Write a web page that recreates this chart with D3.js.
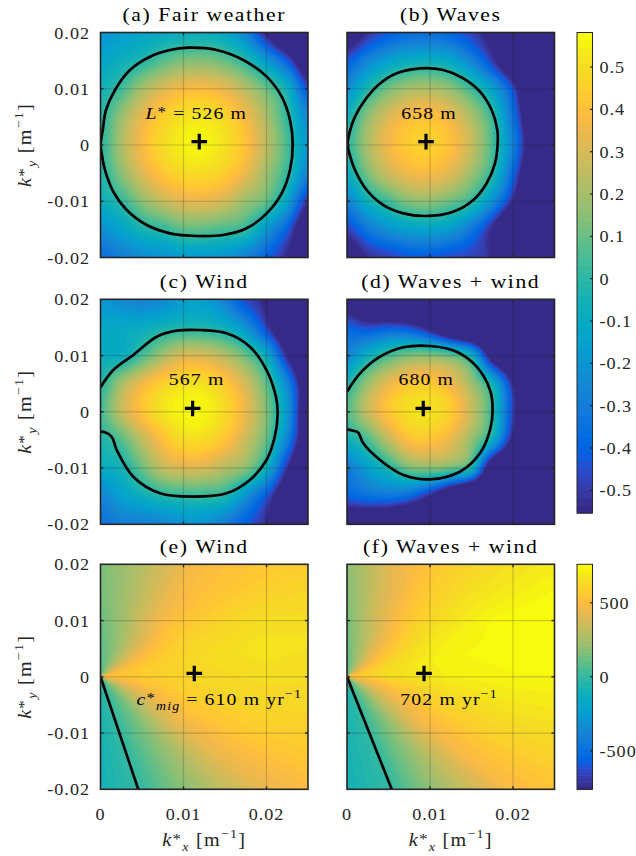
<!DOCTYPE html>
<html><head><meta charset="utf-8">
<script src="https://cdn.jsdelivr.net/npm/d3@7/dist/d3.min.js"></script>
<style>
body{margin:0;background:#fff;}
svg text{font-family:"Liberation Serif","Times New Roman",serif;}
</style>
</head><body>
<svg id="fig" width="636" height="856" xmlns="http://www.w3.org/2000/svg"></svg>
<script>
// ---------------- DATA ----------------
const axisTicksX = [0, 0.01, 0.02];
const axisTicksY = [0.02, 0.01, 0, -0.01, -0.02];
const axisTickLabelsX = ["0", "0.01", "0.02"];
const axisTickLabelsY = ["0.02", "0.01", "0", "-0.01", "-0.02"];
const growthTicks = [0.5, 0.4, 0.3, 0.2, 0.1, 0, -0.1, -0.2, -0.3, -0.4, -0.5];
const growthTickLabels = ["0.5","0.4","0.3","0.2","0.1","0","-0.1","-0.2","-0.3","-0.4","-0.5"];
const migTicks = [500, 0, -500];
const migTickLabels = ["500", "0", "-500"];
const growthLimits = [-0.5537, 0.5816];
const migLimits = [-760, 760];
const titles = ["(a) Fair weather", "(b) Waves", "(c) Wind", "(d) Waves + wind", "(e) Wind", "(f) Waves + wind"];

// growth-rate grids (rows: ky from 0.02 down to -0.02, cols: kx from 0 to 0.025)
const gridKx = [0, 0.0025, 0.005, 0.0075, 0.01, 0.0125, 0.015, 0.0175, 0.02, 0.0225, 0.025];
const gridKy = [0.02, 0.015, 0.01, 0.005, 0, -0.005, -0.01, -0.015, -0.02];
const growthFair = [
 [-0.20,-0.16,-0.125,-0.10,-0.083,-0.08,-0.12,-0.26,-0.56,-0.85,-1.0],
 [-0.125,-0.07,-0.016,0.072,0.132,0.141,0.095,-0.007,-0.186,-0.42,-0.75],
 [-0.053,0.036,0.199,0.310,0.371,0.380,0.333,0.230,0.10,-0.07,-0.45],
 [-0.012,0.175,0.338,0.449,0.510,0.519,0.472,0.368,0.208,0.005,-0.25],
 [0,0.213,0.376,0.487,0.548,0.557,0.510,0.407,0.246,0.05,-0.2],
 [-0.022,0.151,0.314,0.425,0.486,0.494,0.448,0.344,0.184,0.01,-0.27],
 [-0.079,0.01,0.151,0.262,0.323,0.332,0.285,0.181,0.09,-0.14,-0.52],
 [-0.22,-0.137,-0.04,0.01,0.08,0.08,0.05,0.01,-0.19,-0.41,-0.73],
 [-0.35,-0.287,-0.238,-0.2,-0.176,-0.171,-0.205,-0.276,-0.393,-0.55,-0.77]];
const growthWaves = [
 [-0.68,-0.52,-0.42,-0.367,-0.357,-0.393,-0.478,-0.61,-0.8,-1.0,-1.0],
 [-0.423,-0.264,-0.154,-0.092,-0.08,-0.123,-0.27,-0.49,-0.8,-1.0,-1.0],
 [-0.217,-0.026,0.119,0.2,0.217,0.16,0.03,-0.15,-0.45,-0.93,-1.0],
 [-0.053,0.159,0.306,0.388,0.405,0.347,0.212,0.02,-0.345,-0.78,-1.0],
 [0,0.211,0.358,0.44,0.457,0.4,0.264,0.051,-0.283,-0.72,-1.0],
 [-0.083,0.129,0.276,0.358,0.375,0.317,0.182,0.0,-0.38,-0.81,-1.0],
 [-0.267,-0.07,0.04,0.144,0.161,0.104,0.01,-0.22,-0.55,-1.0,-1.0],
 [-0.48,-0.32,-0.21,-0.15,-0.139,-0.18,-0.32,-0.55,-0.9,-1.0,-1.0],
 [-0.68,-0.53,-0.48,-0.428,-0.418,-0.454,-0.48,-0.56,-1.0,-1.0,-1.0]];
const growthWind = [
 [-0.20,-0.24,-0.27,-0.24,-0.165,-0.165,-0.28,-0.46,-0.585,-1.0,-1.0],
 [-0.11,-0.107,-0.09,-0.048,-0.023,-0.026,-0.075,-0.21,-0.476,-0.8,-1.0],
 [-0.085,-0.08,0.05,0.2,0.304,0.299,0.226,0.1,-0.1,-0.55,-0.9],
 [-0.012,0.2,0.355,0.458,0.508,0.502,0.43,0.289,0.079,-0.26,-0.71],
 [0.047,0.257,0.412,0.515,0.564,0.559,0.486,0.345,0.135,-0.186,-0.74],
 [-0.025,0.07,0.25,0.4,0.492,0.487,0.414,0.274,0.09,-0.28,-0.73],
 [-0.095,-0.05,0.1,0.255,0.305,0.299,0.227,0.15,-0.08,-0.52,-0.9],
 [-0.26,-0.153,-0.075,-0.02,0.01,0.01,-0.02,-0.217,-0.43,-0.75,-1.0],
 [-0.345,-0.29,-0.285,-0.256,-0.208,-0.21,-0.3,-0.41,-0.55,-0.8,-1.0]];
const growthWavesWind = [
 [-0.65,-0.85,-1,-1,-1,-1,-1,-1,-1,-1,-1],
 [-0.4,-0.45,-0.42,-0.45,-0.6,-0.85,-1,-1,-1,-1,-1],
 [-0.25,-0.08,0.047,0.131,0.142,0.09,-0.08,-0.65,-0.9,-1,-1],
 [-0.02,0.184,0.339,0.422,0.434,0.358,0.191,-0.069,-0.55,-1,-1],
 [0.07,0.265,0.419,0.503,0.514,0.439,0.271,0.011,-0.48,-0.9,-1],
 [-0.06,0.05,0.25,0.401,0.412,0.337,0.17,-0.09,-0.6,-1,-1],
 [-0.3,-0.15,-0.03,0.12,0.147,0.1,-0.05,-0.75,-1,-1,-1],
 [-0.4,-0.35,-0.33,-0.38,-0.55,-0.8,-1,-1,-1,-1,-1],
 [-0.75,-0.75,-0.8,-0.9,-1,-1,-1,-1,-1,-1,-1]];

// migration-speed grids in polar form (rows: |k|, cols: direction angle in degrees)
const polarAngles = [-90,-75,-60,-45,-30,-15,0,15,30,45,60,75,90];
const polarRadii = [0, 0.005, 0.012, 0.02, 0.032];
const migWind = [
 [-40,12,80,180,300,420,500,500,430,320,200,100,50],
 [-60,15,120,280,420,520,570,570,520,420,290,170,90],
 [-80,18,180,400,530,600,630,640,610,540,420,260,130],
 [-90,20,222,440,560,620,650,680,640,550,480,300,150],
 [-95,20,235,440,560,610,640,660,620,560,500,320,170]];
const migWavesWind = [
 [-40,0,90,200,320,430,520,520,470,360,240,130,60],
 [-60,0,140,320,450,540,640,650,590,500,380,240,110],
 [-80,0,200,440,560,640,715,730,700,620,500,350,160],
 [-95,0,240,480,600,680,735,750,740,660,560,420,190],
 [-100,0,260,500,600,680,735,755,745,670,590,450,200]];

// zero contours [kx, ky]
const contourFair = [[0.01058,0.0173],[0.014,0.01689],[0.0172,0.01511],[0.02002,0.01215],[0.02183,0.00859],[0.02283,0.00444],[0.02316,0.00012],[0.02283,-0.00444],[0.02183,-0.00859],[0.02002,-0.01215],[0.01761,-0.01481],[0.0148,-0.016],[0.01159,-0.01618],[0.00837,-0.0157],[0.00557,-0.01422],[0.00316,-0.01156],[0.00154,-0.0083],[0.00054,-0.00444],[0.00014,-0.00148],[0.00002,0.00012],[0.00027,0.00267],[0.00066,0.00622],[0.00175,0.00978],[0.00355,0.01333],[0.00596,0.0157],[0.00837,0.01689]];
const contourWaves = [[0.0088,0.01363],[0.0116,0.01333],[0.01402,0.01185],[0.01602,0.00948],[0.01743,0.00622],[0.01811,0.00267],[0.01815,0.00012],[0.01783,-0.00326],[0.01683,-0.00681],[0.01522,-0.00978],[0.01281,-0.01185],[0.00952,-0.01262],[0.00679,-0.01215],[0.00438,-0.01067],[0.00237,-0.008],[0.00096,-0.00444],[0.00028,-0.00148],[0.00008,0.00012],[0.00028,0.00207],[0.00096,0.00504],[0.00217,0.008],[0.00377,0.01067],[0.00599,0.01274]];
const contourWind = [[0,0.00436],[0.00154,0.00743],[0.00395,0.0101],[0.00677,0.01335],[0.00918,0.01442],[0.012,0.01454],[0.0152,0.01396],[0.018,0.01157],[0.02,0.00743],[0.02114,0.00268],[0.02135,-0.00027],[0.021,-0.00443],[0.02,-0.00857],[0.018,-0.01212],[0.0152,-0.01449],[0.01118,-0.01509],[0.00717,-0.01449],[0.00395,-0.01154],[0.00195,-0.00679],[0.00135,-0.00443],[0.00054,-0.00364],[0,-0.00354]];
const contourWavesWind = [[0,0.00357],[0.00157,0.00684],[0.00398,0.0098],[0.00679,0.01147],[0.01,0.0117],[0.01321,0.01068],[0.01562,0.00802],[0.01723,0.00388],[0.01755,0.00032],[0.01723,-0.00324],[0.01602,-0.00738],[0.01361,-0.01065],[0.01,-0.012],[0.00679,-0.01124],[0.00398,-0.00857],[0.00196,-0.0056],[0.00136,-0.00372],[0.00076,-0.00336],[0,-0.00311]];
const zeroLineWind = [[0,0],[0.00455,-0.02]];
const zeroLineWavesWind = [[0,0],[0.00539,-0.02]];

// most unstable modes [kx, ky]
const peakModes = [[0.0119,0.0006],[0.00952,0.0006],[0.0111,0.0006],[0.00919,0.0006],[0.0113,0.0006],[0.00928,0.0006]];
// annotation texts (parts)
const annotations = [
 [{t:"L",i:1},{t:"*",ast:1},{t:" = 526 m"}],
 [{t:"658 m"}],
 [{t:"567 m"}],
 [{t:"680 m"}],
 [{t:"c",i:1},{t:"*",ast:1},{t:"mig",sub:1,i:1},{t:" = 610 m yr"},{t:"\u22121",sup:1}],
 [{t:"702 m yr"},{t:"\u22121",sup:1}]
];

// parula colormap (64)
const parula = [
[0.2081,0.1663,0.5292],[0.2116,0.1898,0.5777],[0.2123,0.2138,0.6270],[0.2081,0.2386,0.6771],
[0.1959,0.2645,0.7279],[0.1707,0.2919,0.7792],[0.1253,0.3242,0.8303],[0.0591,0.3598,0.8683],
[0.0117,0.3875,0.8820],[0.0060,0.4086,0.8828],[0.0165,0.4266,0.8786],[0.0329,0.4430,0.8720],
[0.0498,0.4586,0.8641],[0.0629,0.4737,0.8554],[0.0723,0.4887,0.8467],[0.0779,0.5040,0.8384],
[0.0793,0.5200,0.8312],[0.0749,0.5375,0.8263],[0.0641,0.5570,0.8240],[0.0488,0.5772,0.8228],
[0.0343,0.5966,0.8199],[0.0265,0.6137,0.8135],[0.0239,0.6287,0.8038],[0.0231,0.6418,0.7913],
[0.0228,0.6535,0.7768],[0.0267,0.6642,0.7607],[0.0384,0.6743,0.7436],[0.0590,0.6838,0.7254],
[0.0843,0.6928,0.7062],[0.1133,0.7015,0.6859],[0.1453,0.7098,0.6646],[0.1801,0.7177,0.6424],
[0.2178,0.7250,0.6193],[0.2586,0.7317,0.5954],[0.3022,0.7376,0.5712],[0.3482,0.7424,0.5473],
[0.3953,0.7459,0.5244],[0.4420,0.7481,0.5033],[0.4871,0.7491,0.4840],[0.5300,0.7491,0.4661],
[0.5709,0.7485,0.4494],[0.6099,0.7473,0.4337],[0.6473,0.7456,0.4188],[0.6834,0.7435,0.4044],
[0.7184,0.7411,0.3905],[0.7525,0.7384,0.3768],[0.7858,0.7356,0.3633],[0.8185,0.7327,0.3498],
[0.8507,0.7299,0.3360],[0.8824,0.7274,0.3217],[0.9139,0.7258,0.3063],[0.9450,0.7261,0.2886],
[0.9739,0.7314,0.2666],[0.9938,0.7455,0.2403],[0.9990,0.7653,0.2164],[0.9955,0.7861,0.1967],
[0.9880,0.8066,0.1794],[0.9789,0.8271,0.1633],[0.9697,0.8481,0.1475],[0.9626,0.8705,0.1309],
[0.9589,0.8949,0.1132],[0.9598,0.9218,0.0948],[0.9661,0.9514,0.0755],[0.9763,0.9831,0.0538]];

// ---------------- LAYOUT ----------------
const svg = d3.select("#fig");
const colX = [100.5, 347], rowY = [32.5, 299.3, 564.3];
const PW = 207.5, PH = 225;
const xDomain = [0, 0.025], yDomain = [-0.02, 0.02];
const cbX = 577, cbW = 15.5;
const frameColor = "#262626";
// font size, horizontal stretch, letter spacing
const TXT_TICK = {fs:16.5, str:1.1, ls:0.9};
const TXT_TITLE = {fs:18.5, str:1.17, ls:1.35};
const TXT_ANN = {fs:17.5, str:1.13, ls:1.0};
const TXT_LAB = {fs:18, str:1.12, ls:1.1};

const rgb = parula.map(c => c.map(v => Math.round(v * 255)));
function colorIndex(limits) {
  return d3.scaleQuantize().domain(limits).range(d3.range(parula.length));
}

function catmull(p0, p1, p2, p3, t) {
  return p1 + 0.5 * t * (p2 - p0 + t * (2 * p0 - 5 * p1 + 4 * p2 - p3 + t * (3 * (p1 - p2) + p3 - p0)));
}
function cartesianField(grid) {
  const nx = gridKx.length, ny = gridKy.length;
  const gx = d3.scaleLinear().domain([gridKx[0], gridKx[nx - 1]]).range([0, nx - 1]).clamp(true);
  const gy = d3.scaleLinear().domain([gridKy[0], gridKy[ny - 1]]).range([0, ny - 1]).clamp(true);
  const at = (r, c) => grid[Math.max(0, Math.min(ny - 1, r))][Math.max(0, Math.min(nx - 1, c))];
  return (kx, ky) => {
    const fx = gx(kx), fy = gy(ky);
    const ix = Math.min(nx - 2, Math.floor(fx)), iy = Math.min(ny - 2, Math.floor(fy));
    const tx = fx - ix, ty = fy - iy;
    const rows = [];
    for (let r = -1; r <= 2; r++) {
      rows.push(catmull(at(iy + r, ix - 1), at(iy + r, ix), at(iy + r, ix + 1), at(iy + r, ix + 2), tx));
    }
    return catmull(rows[0], rows[1], rows[2], rows[3], ty);
  };
}
function polarField(grid) {
  const na = polarAngles.length, nr = polarRadii.length;
  const ga = d3.scaleLinear().domain(polarAngles).range(d3.range(na)).clamp(true);
  const gr = d3.scaleLinear().domain(polarRadii).range(d3.range(nr)).clamp(true);
  return (kx, ky) => {
    const ang = Math.atan2(ky, kx) * 180 / Math.PI;
    const rad = Math.hypot(kx, ky);
    const fa = ga(ang), fr = gr(rad);
    const ia = Math.min(na - 2, Math.floor(fa)), ir = Math.min(nr - 2, Math.floor(fr));
    const ta = fa - ia, tr = fr - ir;
    const v0 = grid[ir][ia] * (1 - ta) + grid[ir][ia + 1] * ta;
    const v1 = grid[ir + 1][ia] * (1 - ta) + grid[ir + 1][ia + 1] * ta;
    return v0 * (1 - tr) + v1 * tr;
  };
}

function richText(parent, parts, st) {
  const fontSize = st.fs;
  const t = parent.append("text").attr("font-size", fontSize).attr("letter-spacing", st.ls);
  let shift = 0;
  parts.forEach(p => {
    let target = 0, fs = fontSize;
    if (p.sup) { target = -0.42 * fontSize; fs = 0.7 * fontSize; }
    if (p.sub) { target = 0.28 * fontSize; fs = 0.7 * fontSize; }
    if (p.ast) { target = -0.12 * fontSize; fs = 0.85 * fontSize; }
    const s = t.append("tspan").text(p.t).attr("font-size", fs).attr("dy", target - shift);
    if (p.i) s.attr("font-style", "italic");
    shift = target;
  });
  return t;
}
function plainText(parent, str, st) {
  return parent.append("text").attr("font-size", st.fs).attr("letter-spacing", st.ls).text(str);
}
function place(sel, x, y, st, rot) {
  sel.attr("x", 0).attr("y", 0)
     .attr("transform", `translate(${x},${y})${rot ? ` rotate(${rot})` : ""} scale(${st.str},1)`);
  return sel;
}

const panels = [
  {col:0,row:0,kind:"g",data:growthFair,contour:contourFair,closed:true},
  {col:1,row:0,kind:"g",data:growthWaves,contour:contourWaves,closed:true},
  {col:0,row:1,kind:"g",data:growthWind,contour:contourWind,closed:false},
  {col:1,row:1,kind:"g",data:growthWavesWind,contour:contourWavesWind,closed:false},
  {col:0,row:2,kind:"m",data:migWind,contour:zeroLineWind,closed:false,straight:true},
  {col:1,row:2,kind:"m",data:migWavesWind,contour:zeroLineWavesWind,closed:false,straight:true}
];
const annOffset = [[-3,-23],[3,-23],[4,-23],[3,-23],[25,32],[25,32]];

const defs = svg.append("defs");

panels.forEach((p, idx) => {
  const x0 = colX[p.col], y0 = rowY[p.row];
  const x = d3.scaleLinear().domain(xDomain).range([x0, x0 + PW]);
  const y = d3.scaleLinear().domain(yDomain).range([y0 + PH, y0]);
  const field = p.kind === "g" ? cartesianField(p.data) : polarField(p.data);
  const cidx = colorIndex(p.kind === "g" ? growthLimits : migLimits);
  const W = Math.round(PW), H = Math.round(PH);
  const cv = document.createElement("canvas");
  cv.width = W; cv.height = H;
  const ctx = cv.getContext("2d");
  const img = ctx.createImageData(W, H);
  const px = d3.scaleLinear().domain([0, W]).range([x0, x0 + PW]);
  const py = d3.scaleLinear().domain([0, H]).range([y0, y0 + PH]);
  for (let j = 0; j < H; j++) {
    const ky = y.invert(py(j + 0.5));
    for (let i = 0; i < W; i++) {
      const kx = x.invert(px(i + 0.5));
      const c = rgb[cidx(field(kx, ky))];
      const o = 4 * (j * W + i);
      img.data[o] = c[0]; img.data[o + 1] = c[1]; img.data[o + 2] = c[2]; img.data[o + 3] = 255;
    }
  }
  ctx.putImageData(img, 0, 0);
  const g = svg.append("g");
  g.append("image").attr("href", cv.toDataURL()).attr("x", x0).attr("y", y0)
    .attr("width", PW).attr("height", PH).attr("preserveAspectRatio", "none");

  // grid lines
  g.selectAll(".gx").data(axisTicksX.filter(v => v > 0)).enter().append("line")
    .attr("x1", d => x(d)).attr("x2", d => x(d)).attr("y1", y0).attr("y2", y0 + PH)
    .attr("stroke", frameColor).attr("stroke-opacity", 0.22).attr("stroke-width", 1.2);
  g.selectAll(".gy").data(axisTicksY.filter(v => v > -0.02 && v < 0.02)).enter().append("line")
    .attr("y1", d => y(d)).attr("y2", d => y(d)).attr("x1", x0).attr("x2", x0 + PW)
    .attr("stroke", frameColor).attr("stroke-opacity", 0.22).attr("stroke-width", 1.2);

  // contour
  const clipId = "clip" + idx;
  defs.append("clipPath").attr("id", clipId).append("rect")
    .attr("x", x0).attr("y", y0).attr("width", PW).attr("height", PH);
  const line = d3.line().x(d => x(d[0])).y(d => y(d[1]))
    .curve(p.straight ? d3.curveLinear : (p.closed ? d3.curveCatmullRomClosed : d3.curveCatmullRom));
  g.append("path").attr("d", line(p.contour)).attr("clip-path", `url(#${clipId})`)
    .attr("fill", "none").attr("stroke", "#000").attr("stroke-width", 2.7).attr("stroke-linejoin", "round");

  // most unstable mode marker
  const pk = peakModes[idx];
  const cx = x(pk[0]), cy = y(pk[1]);
  g.append("path").attr("d", `M${cx - 7.8},${cy}H${cx + 7.8}M${cx},${cy - 7.8}V${cy + 7.8}`)
    .attr("stroke", "#000").attr("stroke-width", 3.2);

  // annotation
  const at = richText(g, annotations[idx], TXT_ANN).attr("text-anchor", "middle").attr("fill", "#000");
  place(at, cx + annOffset[idx][0], cy + annOffset[idx][1], TXT_ANN);

  // frame and ticks
  g.append("rect").attr("x", x0).attr("y", y0).attr("width", PW).attr("height", PH)
    .attr("fill", "none").attr("stroke", frameColor).attr("stroke-width", 1.6);
  const tl = 3;
  axisTicksX.filter(v => v > 0).forEach(v => {
    g.append("line").attr("x1", x(v)).attr("x2", x(v)).attr("y1", y0 + PH).attr("y2", y0 + PH - tl).attr("stroke", frameColor).attr("stroke-width", 1.4);
    g.append("line").attr("x1", x(v)).attr("x2", x(v)).attr("y1", y0).attr("y2", y0 + tl).attr("stroke", frameColor).attr("stroke-width", 1.4);
  });
  axisTicksY.filter(v => v > -0.02 && v < 0.02).forEach(v => {
    g.append("line").attr("y1", y(v)).attr("y2", y(v)).attr("x1", x0).attr("x2", x0 + tl).attr("stroke", frameColor).attr("stroke-width", 1.4);
    g.append("line").attr("y1", y(v)).attr("y2", y(v)).attr("x1", x0 + PW).attr("x2", x0 + PW - tl).attr("stroke", frameColor).attr("stroke-width", 1.4);
  });

  // title
  const tt = plainText(g, titles[idx], TXT_TITLE).attr("text-anchor", "middle").attr("fill", "#000");
  place(tt, x0 + PW / 2, y0 - 11.5, TXT_TITLE);

  // tick labels and axis labels
  if (p.col === 0) {
    axisTicksY.forEach((v, k) => {
      const t = plainText(g, axisTickLabelsY[k], TXT_TICK).attr("text-anchor", "end").attr("fill", frameColor);
      place(t, x0 - 10.5, y(v) + 6, TXT_TICK);
    });
    const yl = richText(g, [{t:"k",i:1},{t:"*",ast:1},{t:"y",sub:1,i:1},{t:" [m"},{t:"\u22121",sup:1},{t:"]"}], TXT_LAB)
      .attr("text-anchor", "middle").attr("fill", frameColor);
    place(yl, 31, y0 + PH / 2, TXT_LAB, -90);
  }
  if (p.row === 2) {
    axisTicksX.forEach((v, k) => {
      const t = plainText(g, axisTickLabelsX[k], TXT_TICK).attr("text-anchor", "middle").attr("fill", frameColor);
      place(t, x(v), y0 + PH + 30.5, TXT_TICK);
    });
    const xl = richText(g, [{t:"k",i:1},{t:"*",ast:1},{t:"x",sub:1,i:1},{t:" [m"},{t:"\u22121",sup:1},{t:"]"}], TXT_LAB)
      .attr("text-anchor", "middle").attr("fill", frameColor);
    place(xl, x0 + PW / 2, 846, TXT_LAB);
  }
});

// ---------------- COLORBARS ----------------
function colorbar(limits, yTop, yBot, ticks, labels) {
  const g = svg.append("g");
  const s = d3.scaleLinear().domain(limits).range([yBot, yTop]);
  const n = parula.length, step = (limits[1] - limits[0]) / n;
  d3.range(n).forEach(i => {
    const lo = limits[0] + i * step, hi = lo + step;
    g.append("rect").attr("x", cbX).attr("width", cbW)
      .attr("y", s(hi)).attr("height", s(lo) - s(hi) + 0.6)
      .attr("fill", `rgb(${rgb[i].join(",")})`);
  });
  g.append("rect").attr("x", cbX).attr("y", yTop).attr("width", cbW).attr("height", yBot - yTop)
    .attr("fill", "none").attr("stroke", frameColor).attr("stroke-width", 1);
  ticks.forEach((v, k) => {
    g.append("line").attr("x1", cbX + cbW).attr("x2", cbX + cbW - 2.5).attr("y1", s(v)).attr("y2", s(v))
      .attr("stroke", frameColor).attr("stroke-width", 1.2);
    const t = plainText(g, labels[k], TXT_TICK).attr("fill", frameColor);
    place(t, cbX + cbW + 7, s(v) + 6, TXT_TICK);
  });
}
colorbar(growthLimits, rowY[0], rowY[1] + PH - 11.3, growthTicks, growthTickLabels);
colorbar(migLimits, rowY[2], rowY[2] + PH, migTicks, migTickLabels);
</script>
</body></html>
